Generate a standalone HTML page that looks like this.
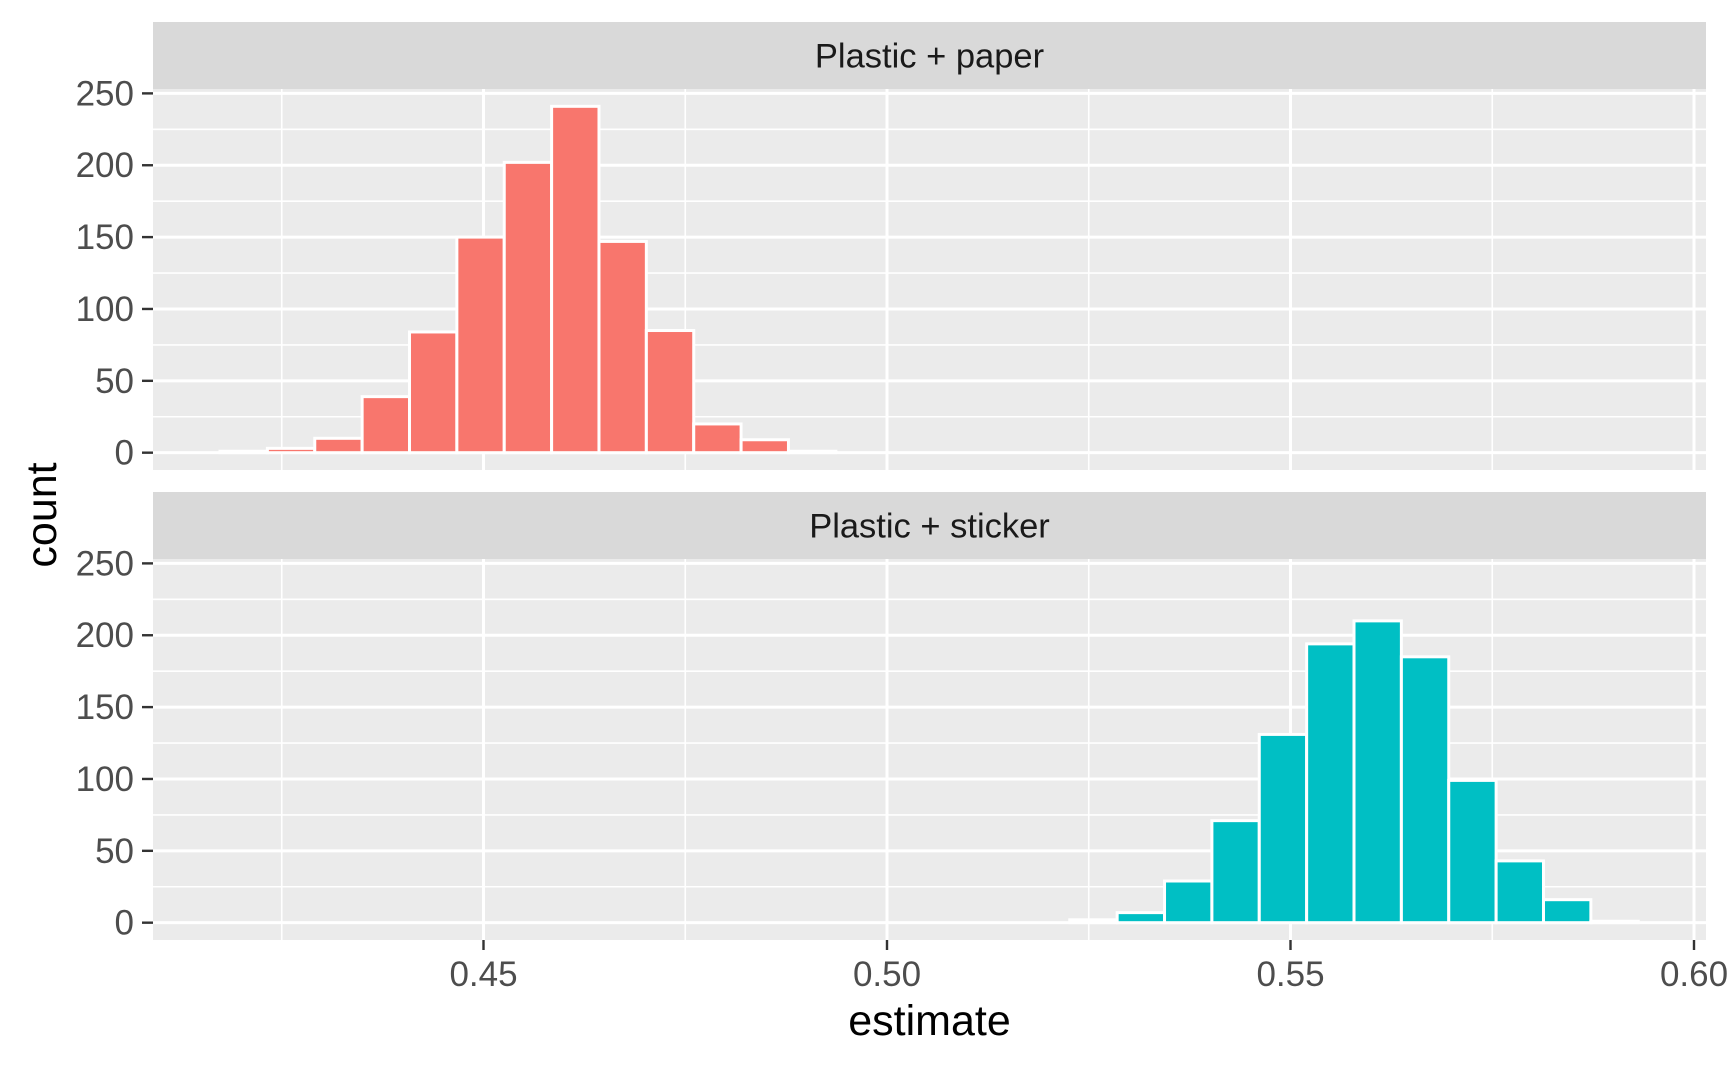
<!DOCTYPE html>
<html><head><meta charset="utf-8"><style>
html,body{margin:0;padding:0;background:#fff}
svg{display:block;font-family:"Liberation Sans",Arial,sans-serif}
</style></head><body>
<svg id="chart" width="1728" height="1067" viewBox="0 0 1728 1067" xmlns="http://www.w3.org/2000/svg"></svg>
<script>
const panelNames = ["Plastic + paper", "Plastic + sticker"];
const panelColors = ["#F8766D", "#00BFC4"];
const binWidth = 0.00587;
const binStarts = [0.41735, 0.52265];
const countsPaper = [1, 3, 10, 39, 84, 150, 202, 241, 147, 85, 20, 9, 1];
const countsSticker = [2, 7, 29, 71, 131, 194, 210, 185, 99, 43, 16, 1];
const yTicks = [0, 50, 100, 150, 200, 250];
const yMinor = [25, 75, 125, 175, 225];
const xTicks = [0.45, 0.50, 0.55, 0.60];
const xTickLabels = ["0.45", "0.50", "0.55", "0.60"];
const xMinor = [0.425, 0.475, 0.525, 0.575];

const NS = "http://www.w3.org/2000/svg";
const svg = document.getElementById("chart");
const L = 153, R = 1706;
const panels = [{st:22, top:89, bot:470}, {st:492, top:559, bot:940}];
const xScale = v => 483.5 + (v - 0.45) * 8070;
const yMin = -12.05, yMax = 253.05;
function yScale(p, v){ return p.bot - (v - yMin) / (yMax - yMin) * (p.bot - p.top); }
function mk(tag, attrs, parent){
  const e = document.createElementNS(NS, tag);
  for (const k in attrs) e.setAttribute(k, attrs[k]);
  (parent || svg).appendChild(e);
  return e;
}
const allCounts = [countsPaper, countsSticker];
panels.forEach((p, i) => {
  const g = mk("g", {});
  
  
  const strip = mk("rect", {x:L, y:p.st, width:R-L, height:p.top-p.st, fill:"#D9D9D9"}, g);
  
  
  const st = mk("text", {x:(L+R)/2, y:(p.st+p.top)/2 + 12, "text-anchor":"middle", "font-size":34.5, fill:"#1A1A1A"}, g);
  st.textContent = panelNames[i];
  
  
  const bg = mk("rect", {x:L, y:p.top, width:R-L, height:p.bot-p.top, fill:"#EBEBEB"}, g);
  
  
  yMinor.forEach(v => { const y = yScale(p, v); const l = mk("line", {x1:L, x2:R, y1:y, y2:y, stroke:"#fff", "stroke-width":1.6}, g);   });
  xMinor.forEach(v => { const x = xScale(v); const l = mk("line", {x1:x, x2:x, y1:p.top, y2:p.bot, stroke:"#fff", "stroke-width":1.6}, g);   });
  yTicks.forEach(v => { const y = yScale(p, v); const l = mk("line", {x1:L, x2:R, y1:y, y2:y, stroke:"#fff", "stroke-width":3}, g);   });
  xTicks.forEach(v => { const x = xScale(v); const l = mk("line", {x1:x, x2:x, y1:p.top, y2:p.bot, stroke:"#fff", "stroke-width":3}, g);   });
  allCounts[i].forEach((c, j) => {
    const x0 = xScale(binStarts[i] + j * binWidth), x1 = xScale(binStarts[i] + (j+1) * binWidth);
    const y0 = yScale(p, 0), y1 = yScale(p, c);
    const b = mk("rect", {x:x0, y:y1, width:x1-x0, height:y0-y1, fill:panelColors[i], stroke:"#fff", "stroke-width":3}, g);
    
    
  });
  yTicks.forEach((v, k) => {
    const y = yScale(p, v);
    const t = mk("line", {x1:142, x2:L, y1:y, y2:y, stroke:"#333", "stroke-width":2.4}, g);
    
    
    const tx = mk("text", {x:134, y:y + 12, "text-anchor":"end", "font-size":35, fill:"#4D4D4D"}, g);
    tx.textContent = String(v);
    
    
  });
});
const pb = panels[1].bot;
xTicks.forEach((v, k) => {
  const x = xScale(v);
  const t = mk("line", {x1:x, x2:x, y1:pb, y2:pb + 10, stroke:"#333", "stroke-width":2.4});
  
  
  const tx = mk("text", {x:x, y:986, "text-anchor":"middle", "font-size":35, fill:"#4D4D4D"});
  tx.textContent = xTickLabels[k];
  
  
});
const xt = mk("text", {x:(L+R)/2, y:1035, "text-anchor":"middle", "font-size":43, fill:"#000"});
xt.textContent = "estimate";


const yt = mk("text", {x:0, y:0, "text-anchor":"middle", "font-size":43, fill:"#000", transform:"translate(56,515) rotate(-90)"});
yt.textContent = "count";


</script>
</body></html>
